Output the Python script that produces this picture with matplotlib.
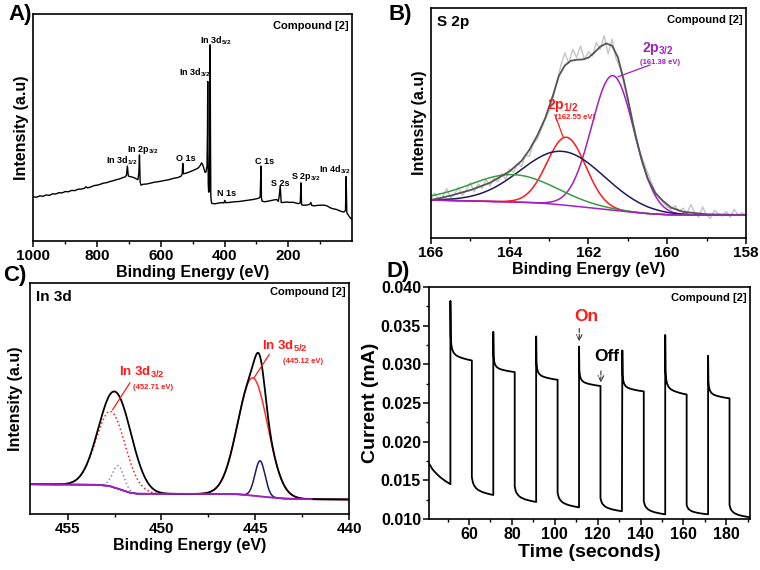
import numpy as np
import matplotlib
matplotlib.use('Agg')
import matplotlib.pyplot as plt

plt.rcParams['font.family'] = ['Liberation Sans', 'DejaVu Sans']
plt.rcParams['font.weight'] = 'bold'
plt.rcParams['axes.labelweight'] = 'bold'
plt.rcParams['mathtext.fontset'] = 'custom'
plt.rcParams['mathtext.rm'] = 'Liberation Sans:bold'
plt.rcParams['mathtext.bf'] = 'Liberation Sans:bold'
plt.rcParams['mathtext.default'] = 'bf'
plt.rcParams['axes.linewidth'] = 1.2

# ---- A) survey spectrum (binding energy eV, intensity a.u.)
survey_be = [1000, 990, 980, 970, 960, 950, 940, 930, 920, 910, 900, 890, 880, 870, 860, 850,
             840, 835, 830, 820, 810, 800, 790, 780, 770, 760, 750, 740, 730, 720, 712, 708,
             705, 702, 695, 688, 680, 672, 669, 667, 665, 662, 655, 645, 635, 620, 605, 590,
             575, 560, 545, 536, 533, 531, 529, 520, 510, 500, 490, 482, 476, 472, 468, 464,
             461, 458, 455, 453.5, 452.7, 452, 451, 450, 449, 447.5, 446, 445, 444, 443, 441.5,
             440, 430, 420, 410, 402, 399, 396, 385, 370, 355, 340, 325, 310, 300, 292, 288,
             285.5, 284, 282, 275, 265, 255, 245, 236, 231, 228, 225, 222, 215, 205, 195, 185,
             175, 168, 165, 162, 160, 158, 154, 148, 140, 132, 129, 126, 118, 108, 98, 88, 80,
             72, 64, 55, 48, 40, 32, 25, 20, 18, 16, 12, 8, 4, 0]
survey_int = [19.5, 19.3, 19.9, 19.7, 20.3, 20.1, 20.8, 20.7, 21.3, 21.2, 21.8, 21.7, 22.3, 22.2, 22.8, 22.9,
              23.2, 23.9, 23.4, 23.8, 24.4, 24.6, 25.0, 25.5, 25.7, 26.2, 26.5, 27.0, 27.3, 27.9, 28.2, 29.0,
              33.0, 28.6, 28.3, 28.1, 27.6, 27.0, 30.0, 37.9, 26.0, 24.6, 25.0, 25.1, 25.4, 25.9, 26.2, 26.6,
              27.0, 27.6, 28.0, 28.6, 29.5, 34.2, 29.6, 29.9, 30.4, 31.0, 31.6, 32.2, 33.3, 34.4, 33.4, 31.5,
              30.2, 30.5, 33.0, 48.0, 70.2, 45.0, 25.0, 22.0, 21.5, 25.0, 45.0, 86.3, 45.0, 20.0, 17.5,
              16.6, 16.4, 16.7, 16.9, 16.8, 17.9, 16.9, 17.0, 17.3, 17.4, 17.7, 18.0, 18.3, 18.6, 18.9, 19.4,
              33.0, 19.0, 17.6, 17.3, 17.5, 17.8, 18.1, 18.3, 17.5, 20.0, 24.3, 17.0, 17.0, 17.2, 17.0, 17.1,
              16.7, 16.5, 16.6, 16.9, 25.6, 16.0, 15.8, 15.8, 15.9, 16.2, 17.0, 15.7, 15.5, 15.7, 15.8, 15.8, 15.6,
              15.0, 14.4, 14.1, 13.9, 13.4, 13.0, 12.8, 13.5, 28.4, 12.5, 11.6, 10.8, 10.0, 9.8]
survey_labels = ['In 3d$_{5/2}$', 'In 3d$_{3/2}$', 'In 2p$_{3/2}$', 'In 3d$_{1/2}$', 'O 1s', 'N 1s',
                 'C 1s', 'S 2s', 'S 2p$_{3/2}$', 'In 4d$_{3/2}$']
survey_label_be = [428, 494, 658, 723, 522, 392, 275, 224, 144, 54]
survey_label_int = [88, 74, 40, 35.5, 36.5, 21, 35.2, 25.4, 28, 31.3]

# ---- B) S 2p high resolution
s2p_be = np.round(np.arange(166.0, 157.95, -0.1), 2)
s2p_raw = [17.0, 19.5, 16.0, 18.0, 21.5, 17.5, 19.0, 22.0, 18.5, 21.0,
           24.0, 20.0, 23.5, 21.5, 25.5, 22.5, 26.0, 24.5, 28.0, 25.5,
           30.0, 28.5, 32.5, 31.0, 36.0, 35.5, 41.0, 43.0, 47.0, 51.5,
           55.0, 61.0, 68.0, 75.0, 80.5, 76.0, 82.0, 78.5, 83.5, 77.5,
           81.0, 79.0, 85.0, 82.0, 88.0, 80.0, 86.5, 78.0, 74.0, 67.0,
           60.0, 52.0, 45.5, 38.0, 33.0, 28.5, 24.0, 20.0, 17.5, 15.5,
           13.5, 12.5, 14.0, 11.5, 13.0, 10.5, 14.5, 11.0, 9.0, 13.5,
           10.0, 8.5, 12.0, 10.5, 9.5, 11.5, 9.0, 12.5, 10.0, 11.0, 10.0]
s2p_env_be = [166.0, 165.5, 165.0, 164.5, 164.0, 163.7, 163.5, 163.3, 163.1, 162.9, 162.75,
              162.6, 162.45, 162.3, 162.15, 162.0, 161.85, 161.7, 161.55, 161.4, 161.25, 161.1,
              160.95, 160.8, 160.65, 160.5, 160.3, 160.1, 159.9, 159.6, 159.0, 158.0]
s2p_env_int = [16.5, 18.4, 20.8, 24.0, 29.0, 33.5, 38.3, 44.5, 52.0, 62.0, 70.5,
               75.0, 77.0, 77.5, 77.6, 78.4, 80.6, 83.2, 84.6, 83.6, 78.5, 68.5,
               56.5, 44.0, 34.0, 26.0, 19.5, 16.0, 13.2, 11.4, 10.3, 10.0]
s2p_bg_be = [166.0, 165.0, 164.0, 163.5, 163.0, 162.5, 162.0, 161.5, 161.0, 160.5, 160.0, 159.0, 158.0]
s2p_bg_int = [16.5, 16.1, 15.7, 15.4, 14.9, 14.1, 13.2, 12.3, 11.4, 10.6, 10.1, 9.9, 9.9]
# component fits: centre (eV), height above background, sigma (eV)
s2p_comp_center = [161.38, 162.56, 162.65, 163.92]
s2p_comp_height = [58.5, 29.6, 23.3, 11.9]
s2p_comp_sigma = [0.54, 0.49, 1.06, 1.08]
s2p_comp_color = ['#a21fc4', '#ff1a1a', '#1c1c5c', '#3a9a45']

# ---- C) In 3d high resolution
in3d_bg_be = [457.0, 453.5, 452.8, 452.4, 452.0, 451.7, 451.3, 448.0, 446.0, 445.3, 444.6, 443.5, 442.0, 440.0]
in3d_bg_int = [12.9, 12.7, 12.2, 11.2, 10.1, 9.3, 8.8, 8.7, 8.6, 8.1, 7.5, 6.7, 6.4, 6.3]
in3d_env_center = [452.70, 451.90, 445.14, 444.75]
in3d_env_height = [33.0, 14.0, 51.0, 15.4]
in3d_env_sigma = [0.78, 0.70, 0.80, 0.27]
in3d_comp_center = [452.70, 452.30, 445.14, 444.75]
in3d_comp_height = [32.5, 10.0, 51.0, 15.4]
in3d_comp_sigma = [0.78, 0.30, 0.80, 0.27]
in3d_comp_color = ['#ff1a1a', '#8a8ab8', '#ff3030', '#1c1c5c']
in3d_comp_style = [':', ':', '-', '-']

# ---- D) photocurrent on/off
t_pre = [41.5, 43.0, 45.0, 47.0, 49.0, 51.3]
i_pre = [0.0171, 0.0164, 0.0158, 0.0153, 0.0149, 0.0145]
on_times = [51.3, 71.3, 91.3, 111.3, 131.5, 151.5, 171.5]
spike = [0.0382, 0.0342, 0.0336, 0.0323, 0.0318, 0.0338, 0.0311]
on_end = [0.0305, 0.0290, 0.0280, 0.0272, 0.0265, 0.0261, 0.0256]
off_start = [0.0154, 0.0142, 0.0134, 0.0127, 0.0123, 0.0118, 0.0118]
off_end = [0.0131, 0.0122, 0.0115, 0.0110, 0.0106, 0.0106, 0.0102]
on_dt = [0, 0.15, 0.4, 0.8, 1.5, 2.5, 4, 6, 8, 10]
on_frac = [1, 0.40, 0.27, 0.19, 0.13, 0.09, 0.06, 0.035, 0.015, 0]
off_dt = [0, 0.5, 1, 2, 3, 5, 7.5, 10]
off_frac = [1, 0.7, 0.55, 0.38, 0.28, 0.16, 0.07, 0]


def gauss(x, c, h, s):
    return h * np.exp(-(x - c) ** 2 / (2 * s ** 2))


def style_axis(ax):
    ax.set_yticks([])
    ax.tick_params(axis='x', which='major', direction='out', length=4, width=1.1, labelsize=11, pad=2)
    ax.tick_params(axis='x', which='minor', direction='out', length=2.5, width=1.0)
    for lab in ax.get_xticklabels():
        lab.set_fontweight('bold')


fig = plt.figure(figsize=(7.6, 5.7), dpi=100)

# A
axA = fig.add_axes([0.044, 0.577, 0.419, 0.399])
axA.plot(survey_be, survey_int, color='black', lw=1.0)
axA.set_xlim(1000, 0)
axA.set_ylim(0, 100)
axA.set_xticks([1000, 800, 600, 400, 200])
axA.set_xticks(np.arange(900, 0, -200), minor=True)
style_axis(axA)
axA.set_xlabel('Binding Energy (eV)', fontsize=11.5, labelpad=1)
axA.set_ylabel('Intensity (a.u)', fontsize=11.5, labelpad=3)
for lab, x, y in zip(survey_labels, survey_label_be, survey_label_int):
    axA.text(x, y, lab, fontsize=6.5, ha='center', va='center')
axA.text(0.99, 0.97, 'Compound [2]', transform=axA.transAxes, ha='right', va='top', fontsize=8)

# B
axB = fig.add_axes([0.567, 0.5825, 0.4145, 0.4035])
axB.plot(s2p_be, s2p_raw, color='#c4c4c4', lw=1.0)
fine = np.linspace(166, 158, 600)
bg_fine = np.interp(fine, s2p_bg_be[::-1], s2p_bg_int[::-1])
for c, h, s, col in zip(s2p_comp_center, s2p_comp_height, s2p_comp_sigma, s2p_comp_color):
    axB.plot(fine, bg_fine + gauss(fine, c, h, s), color=col, lw=1.1)
axB.plot(s2p_env_be, s2p_env_int, color='#555555', lw=1.3)
axB.plot(s2p_bg_be, s2p_bg_int, color='#a21fc4', lw=1.1)
axB.set_xlim(166, 158)
axB.set_ylim(0, 100)
axB.set_xticks([166, 164, 162, 160, 158])
axB.set_xticks([165, 163, 161, 159], minor=True)
style_axis(axB)
axB.set_xlabel('Binding Energy (eV)', fontsize=11.5, labelpad=1)
axB.set_ylabel('Intensity (a.u)', fontsize=11.5, labelpad=3)
axB.text(0.02, 0.97, 'S 2p', transform=axB.transAxes, ha='left', va='top', fontsize=11)
axB.text(0.99, 0.97, 'Compound [2]', transform=axB.transAxes, ha='right', va='top', fontsize=8)
axB.text(160.24, 82.2, '2p$_{3/2}$', color='#a21fc4', fontsize=10, ha='center', va='center')
axB.text(160.19, 76.2, '(161.38 eV)', color='#a21fc4', fontsize=5.5, ha='center', va='center')
axB.plot([160.44, 161.25], [75.2, 70.1], color='#a21fc4', lw=0.9)
axB.text(162.64, 57.8, '2p$_{1/2}$', color='#ff1a1a', fontsize=10, ha='center', va='center')
axB.text(162.35, 52.5, '(162.55 eV)', color='#ff1a1a', fontsize=5.5, ha='center', va='center')
axB.plot([162.85, 162.64], [53.5, 43.8], color='#ff1a1a', lw=0.9)

# C
axC = fig.add_axes([0.0395, 0.0982, 0.420, 0.405])
fineC = np.linspace(457, 440, 800)
bgC = np.interp(fineC, in3d_bg_be[::-1], in3d_bg_int[::-1])
envC = bgC.copy()
for c, h, s in zip(in3d_env_center, in3d_env_height, in3d_env_sigma):
    envC = envC + gauss(fineC, c, h, s)
for c, h, s, col, ls in zip(in3d_comp_center, in3d_comp_height, in3d_comp_sigma,
                            in3d_comp_color, in3d_comp_style):
    axC.plot(fineC, bgC + gauss(fineC, c, h, s), color=col, lw=1.1, ls=ls)
axC.plot(fineC, envC, color='black', lw=1.3)
axC.plot(in3d_bg_be[:-1], in3d_bg_int[:-1], color='#a21fc4', lw=1.3)
axC.set_xlim(457, 440)
axC.set_ylim(0, 100)
axC.set_xticks([455, 450, 445, 440])
axC.set_xticks([452.5, 447.5, 442.5], minor=True)
style_axis(axC)
axC.set_xlabel('Binding Energy (eV)', fontsize=11.5, labelpad=1)
axC.set_ylabel('Intensity (a.u)', fontsize=11.5, labelpad=5)
axC.text(0.02, 0.97, 'In 3d', transform=axC.transAxes, ha='left', va='top', fontsize=11)
axC.text(0.99, 0.985, 'Compound [2]', transform=axC.transAxes, ha='right', va='top', fontsize=8)
axC.text(451.05, 61.2, 'In 3d$_{3/2}$', color='#ff1a1a', fontsize=9.5, ha='center', va='center')
axC.text(450.43, 54.6, '(452.71 eV)', color='#ff1a1a', fontsize=5.5, ha='center', va='center')
axC.plot([451.68, 452.6], [56.8, 45.2], color='#ff1a1a', lw=0.9)
axC.text(443.42, 72.8, 'In 3d$_{5/2}$', color='#ff1a1a', fontsize=9.5, ha='center', va='center')
axC.text(442.45, 66.2, '(445.12 eV)', color='#ff1a1a', fontsize=5.5, ha='center', va='center')
axC.plot([444.26, 445.07], [69.1, 59.0], color='#ff1a1a', lw=0.9)

# D
t_all = list(t_pre)
i_all = list(i_pre)
for k in range(len(on_times)):
    ton = on_times[k]
    for dt, f in zip(on_dt, on_frac):
        t_all.append(ton + dt)
        i_all.append(on_end[k] + (spike[k] - on_end[k]) * f)
    toff = ton + 10
    for dt, f in zip(off_dt, off_frac):
        t_all.append(toff + dt)
        i_all.append(off_end[k] + (off_start[k] - off_end[k]) * f)

axD = fig.add_axes([0.565, 0.0895, 0.4217, 0.407])
axD.plot(t_all, i_all, color='black', lw=1.3)
axD.set_xlim(41.5, 191)
axD.set_ylim(0.010, 0.040)
axD.set_xticks(np.arange(60, 181, 20))
axD.set_xticks(np.arange(50, 191, 10), minor=True)
axD.set_yticks(np.arange(0.010, 0.0401, 0.005))
axD.set_yticks(np.arange(0.0125, 0.040, 0.005), minor=True)
axD.yaxis.set_major_formatter(matplotlib.ticker.FormatStrFormatter('%.3f'))
axD.tick_params(which='major', direction='out', length=4, width=1.1, labelsize=11.5, pad=2)
axD.tick_params(which='minor', direction='out', length=2.5, width=1.0)
for lab in axD.get_xticklabels() + axD.get_yticklabels():
    lab.set_fontweight('bold')
axD.set_xlabel('Time (seconds)', fontsize=14, labelpad=1)
axD.set_ylabel('Current (mA)', fontsize=14, labelpad=1)
axD.text(0.99, 0.975, 'Compound [2]', transform=axD.transAxes, ha='right', va='top', fontsize=8)
axD.text(114.8, 0.0362, 'On', color='#ff1a1a', fontsize=12.5, ha='center', va='center')
axD.annotate('', xy=(111.4, 0.0326), xytext=(111.4, 0.0350),
             arrowprops=dict(arrowstyle='->', ls='--', lw=0.8, color='#333333'))
axD.text(124.0, 0.0310, 'Off', color='black', fontsize=12.5, ha='center', va='center')
axD.annotate('', xy=(121.5, 0.0273), xytext=(121.5, 0.0295),
             arrowprops=dict(arrowstyle='->', ls='--', lw=0.8, color='#333333'))

# panel letters
for lab, x, y in [('A)', 0.027, 0.974), ('B)', 0.527, 0.974), ('C)', 0.019, 0.516), ('D)', 0.524, 0.523)]:
    fig.text(x, y, lab, fontsize=16, fontweight='bold', ha='center', va='center')

fig.savefig('out.png', dpi=100)
